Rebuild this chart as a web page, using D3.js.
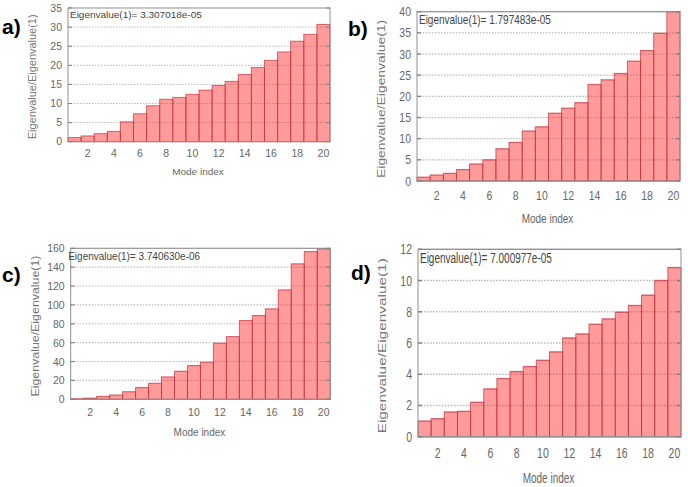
<!DOCTYPE html>
<html>
<head>
<meta charset="utf-8">
<script src="https://cdn.jsdelivr.net/npm/d3@7"></script>
<style>
  body { margin: 0; background: #fff; }
  svg { display: block; font-family: "Liberation Sans", Arial, sans-serif; }
</style>
</head>
<body>
<svg id="chart" width="688" height="487"></svg>
<script>
// four eigenvalue-ratio bar charts (gnuplot style)
const modes = [1, 2, 3, 4, 5, 6, 7, 8, 9, 10, 11, 12, 13, 14, 15, 16, 17, 18, 19, 20];
const xTickLabels = [2, 4, 6, 8, 10, 12, 14, 16, 18, 20];

const ratiosA = [1.1, 1.5, 2.1, 2.7, 5.2, 7.3, 9.4, 11.1, 11.6, 12.4, 13.5, 14.7, 15.8, 17.6, 19.4, 21.3, 23.5, 26.3, 28.1, 30.7];
const ratiosB = [0.9, 1.4, 1.8, 2.7, 4.0, 5.0, 7.6, 9.1, 11.8, 12.8, 16.0, 17.2, 18.5, 22.8, 23.9, 25.4, 28.3, 30.8, 34.9, 40.0];
const ratiosC = [0.6, 1.2, 3.0, 4.5, 8.0, 12.4, 17.0, 23.7, 29.7, 35.7, 39.2, 59.4, 66.4, 83.4, 88.7, 95.8, 115.9, 143.5, 156.5, 159.4];
const ratiosD = [1.0, 1.15, 1.58, 1.62, 2.2, 3.06, 3.72, 4.17, 4.49, 4.89, 5.43, 6.32, 6.58, 7.2, 7.54, 7.97, 8.4, 9.06, 10.0, 10.83];

const yTicksA = [0, 5, 10, 15, 20, 25, 30, 35];
const yTicksB = [0, 5, 10, 15, 20, 25, 30, 35, 40];
const yTicksC = [0, 20, 40, 60, 80, 100, 120, 140, 160];
const yTicksD = [0, 2, 4, 6, 8, 10, 12];

const labels = ["a)", "b)", "c)", "d)"];
const keyTexts = [
  "Eigenvalue(1)= 3.307018e-05",
  "Eigenvalue(1)= 1.797483e-05",
  "Eigenvalue(1)= 3.740630e-06",
  "Eigenvalue(1)= 7.000977e-05"
];

const svg = d3.select("#chart");
const H0 = 134; // base plot height, other panels are stretched from it

const panels = [
  { vals: ratiosA, ticks: yTicksA, x: 68,  y: 8,     w: 262, h: 133.7, lx: 2,   ly: 34,  kx: 2 },
  { vals: ratiosB, ticks: yTicksB, x: 417, y: 11.7,  w: 263, h: 169.3, lx: 348, ly: 36,  kx: 2 },
  { vals: ratiosC, ticks: yTicksC, x: 70.7, y: 248.3, w: 259.5, h: 151, lx: 2,  ly: 282, kx: -2.5 },
  { vals: ratiosD, ticks: yTicksD, x: 418, y: 249.3, w: 263, h: 187.4, lx: 351, ly: 280, kx: 2 }
];

panels.forEach((p, i) => {
  const sy = p.h / H0;
  const g = svg.append("g")
    .attr("transform", `translate(${p.x},${p.y}) scale(1,${sy})`);

  const x = d3.scaleLinear().domain([0.5, 20.5]).range([0, p.w]);
  const y = d3.scaleLinear().domain([0, d3.max(p.ticks)]).range([H0, 0]);

  // dotted grid
  g.selectAll(".grid").data(p.ticks.slice(1, -1)).join("line")
    .attr("x1", 0).attr("x2", p.w)
    .attr("y1", d => y(d)).attr("y2", d => y(d))
    .attr("stroke", "#b8b8b8")
    .attr("stroke-width", 1)
    .attr("stroke-dasharray", "1.5,1.5");

  // bars
  g.selectAll(".bar").data(p.vals).join("rect")
    .attr("x", (d, k) => x(modes[k] - 0.5))
    .attr("width", (d, k) => x(modes[k] + 0.5) - x(modes[k] - 0.5))
    .attr("y", d => y(d))
    .attr("height", d => H0 - y(d))
    .attr("fill", "#ff2a2a")
    .attr("fill-opacity", 0.47)
    .attr("stroke", "#c0303c")
    .attr("stroke-opacity", 0.7)
    .attr("stroke-width", 1);

  // frame
  g.append("rect")
    .attr("x", 0).attr("y", 0)
    .attr("width", p.w).attr("height", H0)
    .attr("fill", "none")
    .attr("stroke", "#909090")
    .attr("stroke-width", 1);

  // small inward ticks, left and right
  p.ticks.forEach(t => {
    g.append("line").attr("x1", 0).attr("x2", 4).attr("y1", y(t)).attr("y2", y(t))
      .attr("stroke", "#808080");
    g.append("line").attr("x1", p.w - 4).attr("x2", p.w).attr("y1", y(t)).attr("y2", y(t))
      .attr("stroke", "#808080");
  });

  // y tick labels
  g.selectAll(".ylab").data(p.ticks).join("text")
    .attr("x", -6)
    .attr("y", d => y(d) + 3.6)
    .attr("text-anchor", "end")
    .attr("font-size", 10.5)
    .attr("fill", "#666")
    .text(d => d);

  // x tick labels
  g.selectAll(".xlab").data(xTickLabels).join("text")
    .attr("x", d => x(d))
    .attr("y", H0 + 15)
    .attr("text-anchor", "middle")
    .attr("font-size", 10.5)
    .attr("fill", "#666")
    .text(d => d);

  // axis titles
  g.append("text")
    .attr("x", p.w / 2 - 1)
    .attr("y", H0 + 33)
    .attr("text-anchor", "middle")
    .attr("font-size", 10)
    .attr("fill", "#666")
    .text("Mode index");

  g.append("text")
    .attr("transform", `translate(-32,${H0 / 2 + 2}) rotate(-90)`)
    .attr("text-anchor", "middle")
    .attr("font-size", 11)
    .attr("fill", "#777")
    .text("Eigenvalue/Eigenvalue(1)");

  // key text
  g.append("text")
    .attr("x", p.kx)
    .attr("y", 10)
    .attr("font-size", 10)
    .attr("fill", "#444")
    .text(keyTexts[i]);

  // panel letter (not stretched)
  svg.append("text")
    .attr("x", p.lx)
    .attr("y", p.ly)
    .attr("font-family", "Liberation Sans, Arial, sans-serif")
    .attr("font-weight", "bold")
    .attr("font-size", 21)
    .attr("fill", "#000")
    .text(labels[i]);
});
</script>
</body>
</html>
